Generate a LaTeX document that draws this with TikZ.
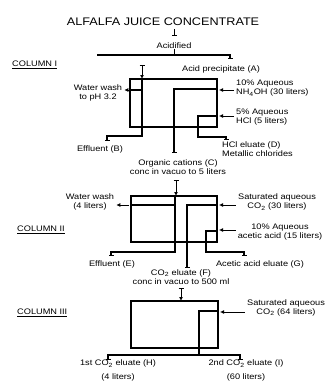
\documentclass[tikz,border=0pt]{standalone}
\usepackage{fontspec}
\setmainfont{Liberation Sans}[FakeStretch=1.15]
\usepackage{tikz}
\usetikzlibrary{arrows.meta}

\begin{document}
\begin{tikzpicture}[x=1pt, y=-1pt, font=\fontsize{8}{9}\selectfont,
    wall/.style={line width=1.4pt},
    lead/.style={line width=1pt},
    tbar/.style={-{Bar[width=5pt]}},
    flow/.style={lead, -{Latex[length=4pt, width=4pt]}, shorten <=2pt, shorten >=2pt},
    feed/.style={lead, {Bar[width=5pt]}-{Latex[length=4pt, width=4pt]}},
    colbox/.style={draw, line width=1.4pt, inner sep=0pt, outer sep=0pt},
    lbl/.style={inner sep=0pt, align=center},
    lbll/.style={lbl, align=left, anchor=west}]
  \useasboundingbox (0,0) rectangle (326,383);
  % top of the scheme
  \node[lbl, font=\fontsize{11}{12}\selectfont] (title) at (163,22) {ALFALFA JUICE CONCENTRATE};
  \node[lbl] (acid) at (174,46) {Acidified};
  \node[lbl] (ppt) at (221,69) {Acid precipitate (A)};
  \draw[lead, tbar] (acid.north |- 0,29) -- (acid.north |- 0,36);
  \draw[lead] (acid.south) -- (acid.south |- 0,55);
  \draw[wall, tbar] (97,55) -| (230,59);

  % column I
  \node[lbl, anchor=west] (c1) at (12,65) {\underline{COLUMN I}};
  \node[colbox, minimum width=87pt, minimum height=48pt] (col1) at (173.5,103) {};
  \draw[feed] (142,65) -- (col1.north -| 142,0);
  \draw[wall, tbar] (142,79) |- (107,136) -- (107,141);
  \draw[wall] (130,90) -- (142,90);
  \draw[wall, tbar] (217,89) -| (174,153);
  \draw[wall, tbar] (217,116) -| (198,137) -| (226,140);
  \node[lbl] (wash1) at (98,93) {Water wash\\to pH 3.2};
  \node[lbll] (nh4) at (236,88.5) {10\% Aqueous\\NH\textsubscript{4}OH (30 liters)};
  \node[lbll] (hcl) at (236,117.5) {5\% Aqueous\\HCl (5 liters)};
  \node[lbl] (effB) at (100,149) {Effluent (B)};
  \node[lbl] (orgC) at (178,167) {Organic cations (C)\\conc in vacuo to 5 liters};
  \node[lbll] (eluD) at (222,149) {HCl eluate (D)\\Metallic chlorides};
  \draw[flow] (col1.west |- 0,90) -- (wash1.east |- 0,90);
  \draw[flow] (nh4.west |- 0,90) -- (col1.east |- 0,90);
  \draw[flow] (hcl.west |- 0,116) -- (col1.east |- 0,116);

  % column II
  \node[lbl, anchor=west] (c2) at (17,230) {\underline{COLUMN II}};
  \node[colbox, minimum width=86pt, minimum height=46pt] (col2) at (174,219) {};
  \draw[feed] (176,180) -- (col2.north -| 176,0);
  \draw[wall, tbar] (175,196) |- (111,252) -- (111,256);
  \draw[wall] (131,205) -- (175,205);
  \draw[wall, tbar] (217,205) -| (187,268);
  \draw[wall, tbar] (217,231) -| (206,252) -| (244,256);
  \node[lbl] (wash2) at (90,202) {Water wash\\(4 liters)};
  \node[lbl] (sat2) at (277,202) {Saturated aqueous\\CO\textsubscript{2} (30 liters)};
  \node[lbl] (acet) at (280,232) {10\% Aqueous\\acetic acid (15 liters)};
  \node[lbl] (effE) at (112,264) {Effluent (E)};
  \node[lbl] (eluF) at (181,277) {CO\textsubscript{2} eluate (F)\\conc in vacuo to 500 ml};
  \node[lbl] (eluG) at (260,264) {Acetic acid eluate (G)};
  \draw[flow] (col2.west |- 0,205) -- (wash2.east |- 0,205);
  \draw[flow] (sat2.west |- 0,205) -- (col2.east |- 0,205);
  \draw[flow] (acet.west |- 0,230) -- (col2.east |- 0,230);

  % column III
  \node[lbl, anchor=west] (c3) at (17,313) {\underline{COLUMN III}};
  \node[colbox, minimum width=87pt, minimum height=47pt] (col3) at (174.5,324.5) {};
  \draw[feed] (181,288) -- (col3.north -| 181,0);
  \draw[wall] (218,311) -| (199,355);
  \draw[wall, {Bar[width=5pt]}-{Bar[width=5pt]}] (108,360) |- (240,355) -- (240,360);
  \node[lbl] (sat3) at (286,307.5) {Saturated aqueous\\CO\textsubscript{2} (64 liters)};
  \node[lbl] (eluH) at (118,370.5) {1st CO\textsubscript{2} eluate (H)\\[5pt](4 liters)};
  \node[lbl] (eluI) at (246,370.5) {2nd CO\textsubscript{2} eluate (I)\\[5pt](60 liters)};
  \draw[flow] (sat3.west |- 0,312) -- (col3.east |- 0,312);
\end{tikzpicture}
\end{document}
